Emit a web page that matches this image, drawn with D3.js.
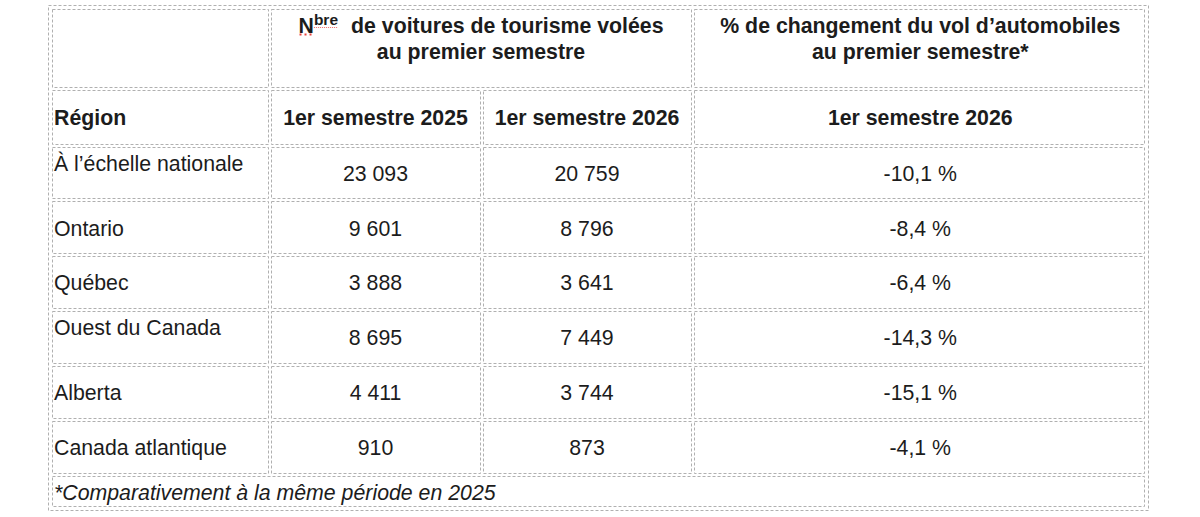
<!DOCTYPE html>
<html><head><meta charset="utf-8">
<script src="https://cdn.jsdelivr.net/npm/d3@7"></script>
<style>
html,body{margin:0;padding:0;background:#fff;}
svg{display:block;}
text{font-family:"Liberation Sans",Arial,Helvetica,sans-serif;fill:#1c1c1c;}
</style></head>
<body>
<svg id="chart" width="1200" height="517"></svg>
<script>
// ---- data ----
const regions = ["À l’échelle nationale","Ontario","Québec","Ouest du Canada","Alberta","Canada atlantique"];
const thefts2025 = [23093, 9601, 3888, 8695, 4411, 910];
const thefts2026 = [20759, 8796, 3641, 7449, 3744, 873];
const pctChange = [-10.1, -8.4, -6.4, -14.3, -15.1, -4.1];
const headerCountTitle = ["de voitures de tourisme volées", "au premier semestre"];
const headerPctTitle = ["% de changement du vol d’automobiles", "au premier semestre*"];
const columnLabels = ["Région", "1er semestre 2025", "1er semestre 2026", "1er semestre 2026"];
const footnote = "*Comparativement à la même période en 2025";

// ---- layout ----
const svg = d3.select("#chart");
const colLines = [48, 269.5, 481.5, 692.5, 1148];
const outerTop = 5, headLine1 = 88.5, headLine2 = 145.5, dataEnd = 474.5, outerBottom = 510;
const FS = 21.3;
const topAligned = new Set(["À l’échelle nationale", "Ouest du Canada"]);

const y = d3.scaleBand().domain(regions).range([headLine2, dataEnd]);
const fr = d3.formatLocale({decimal: ",", thousands: " ", grouping: [3], currency: ["", ""], minus: "-"});
const fmtInt = fr.format(",d");
const fmtPct = v => fr.format(".1f")(v) + " %";

const dash = "3,2", gridColor = "#b0b0b0";
const outerX = new Set([colLines[0], colLines[colLines.length - 1]]);
const outerY = new Set([outerTop, outerBottom]);
function edgeStart(v, outer) { return Math.floor(v + (outer ? 4 : 1.5)) + 0.5; }
function edgeEnd(v, outer) { return Math.floor(v - (outer ? 4 : 1.5)) + 0.5; }

const grid = svg.append("g");
grid.append("rect")
  .attr("x", colLines[0] + 0.5).attr("y", outerTop + 0.5)
  .attr("width", colLines[4] - colLines[0]).attr("height", outerBottom - outerTop)
  .attr("fill", "none").attr("stroke", gridColor).attr("stroke-dasharray", dash);

function cell(x0, x1, y0, y1) {
  const a = edgeStart(x0, outerX.has(x0)), b = edgeEnd(x1, outerX.has(x1));
  const c = edgeStart(y0, outerY.has(y0)), d = edgeEnd(y1, outerY.has(y1));
  grid.append("rect").attr("x", a).attr("y", c).attr("width", b - a).attr("height", d - c)
    .attr("fill", "none").attr("stroke", gridColor).attr("stroke-dasharray", dash);
}
// header row 1
cell(colLines[0], colLines[1], outerTop, headLine1);
cell(colLines[1], colLines[3], outerTop, headLine1);
cell(colLines[3], colLines[4], outerTop, headLine1);
// header row 2 + data rows
const rowBounds = [[headLine1, headLine2]].concat(regions.map(r => [y(r), y(r) + y.bandwidth()]));
rowBounds.forEach(([y0, y1]) => {
  for (let i = 0; i < 4; i++) cell(colLines[i], colLines[i + 1], y0, y1);
});
// footnote
cell(colLines[0], colLines[4], dataEnd, outerBottom);

const mid = i => (colLines[i] + colLines[i + 1]) / 2;
const txt = svg.append("g");

// header row 1: count title with superscript
const t1 = txt.append("text").attr("x", (colLines[1] + colLines[3]) / 2).attr("y", 33)
  .attr("text-anchor", "middle").style("font-size", FS + "px").style("font-weight", "bold");
t1.append("tspan").text("N");
t1.append("tspan").attr("dy", -8).style("font-size", "15.5px").text("bre");
t1.append("tspan").attr("dy", 8).attr("dx", 13).text(headerCountTitle[0]);
txt.append("text").attr("x", (colLines[1] + colLines[3]) / 2).attr("y", 59)
  .attr("text-anchor", "middle").style("font-size", FS + "px").style("font-weight", "bold")
  .text(headerCountTitle[1]);
// spell-check red dotted marks
const node = t1.node();
const nStart = node.getStartPositionOfChar(0).x, nEnd = node.getEndPositionOfChar(0).x;
const bStart = node.getStartPositionOfChar(1).x, bEnd = node.getEndPositionOfChar(3).x;
svg.append("line").attr("x1", nStart + 1).attr("x2", nEnd).attr("y1", 34.5).attr("y2", 34.5)
  .attr("stroke", "#e8413c").attr("stroke-width", 2).attr("stroke-dasharray", "2,3");
svg.append("line").attr("x1", bStart).attr("x2", bEnd).attr("y1", 27.5).attr("y2", 27.5)
  .attr("stroke", "#ef6a66").attr("stroke-width", 1).attr("stroke-dasharray", "1,1");

headerPctTitle.forEach((s, i) => {
  txt.append("text").attr("x", mid(3)).attr("y", 33 + i * 26).attr("text-anchor", "middle")
    .style("font-size", FS + "px").style("font-weight", "bold").text(s);
});

// header row 2
columnLabels.forEach((s, i) => {
  txt.append("text").attr("x", i === 0 ? colLines[0] + 6 : mid(i)).attr("y", (headLine1 + headLine2) / 2 + 7.5)
    .attr("text-anchor", i === 0 ? "start" : "middle")
    .style("font-size", FS + "px").style("font-weight", "bold").text(s);
});

// data rows
regions.forEach((r, k) => {
  const cy = y(r) + y.bandwidth() / 2 + 7.8;
  txt.append("text").attr("x", colLines[0] + 6)
    .attr("y", topAligned.has(r) ? y(r) + 25 : cy)
    .style("font-size", FS + "px").text(r);
  txt.append("text").attr("x", mid(1)).attr("y", cy).attr("text-anchor", "middle")
    .style("font-size", FS + "px").text(fmtInt(thefts2025[k]));
  txt.append("text").attr("x", mid(2)).attr("y", cy).attr("text-anchor", "middle")
    .style("font-size", FS + "px").text(fmtInt(thefts2026[k]));
  txt.append("text").attr("x", mid(3)).attr("y", cy).attr("text-anchor", "middle")
    .style("font-size", FS + "px").text(fmtPct(pctChange[k]));
});

// footnote
txt.append("text").attr("x", colLines[0] + 6).attr("y", (dataEnd + outerBottom) / 2 + 7.5)
  .style("font-size", FS + "px").style("font-style", "italic").text(footnote);
</script>
</body></html>
